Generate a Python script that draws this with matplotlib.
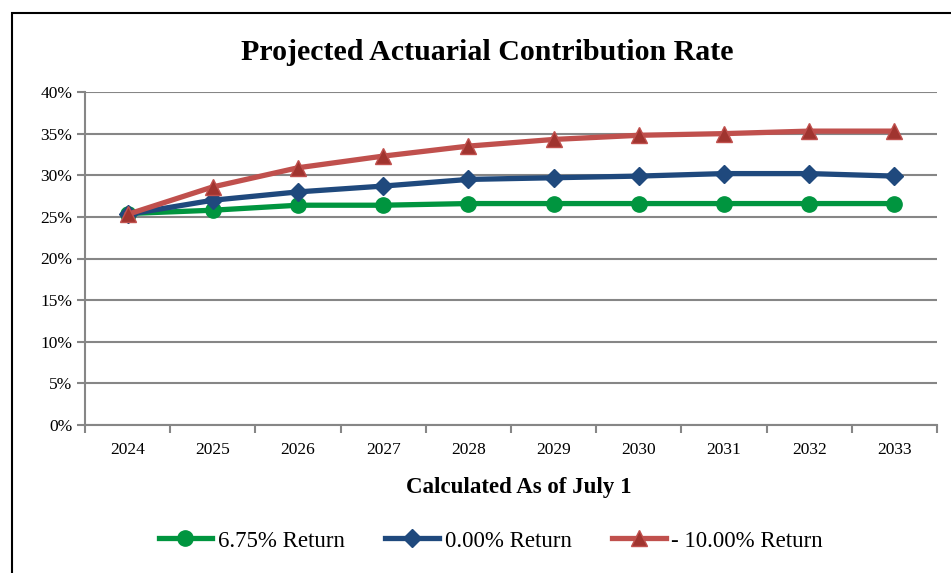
import matplotlib
matplotlib.use("Agg")
import matplotlib.pyplot as plt
from matplotlib.patches import Rectangle
from matplotlib.ticker import FuncFormatter, MultipleLocator

# datos
anios = ["2024", "2025", "2026", "2027", "2028", "2029", "2030", "2031", "2032", "2033"]
ret_675 = [25.4, 25.8, 26.4, 26.4, 26.6, 26.6, 26.6, 26.6, 26.6, 26.6]
ret_000 = [25.3, 27.0, 28.0, 28.7, 29.5, 29.7, 29.9, 30.2, 30.2, 29.9]
ret_neg10 = [25.3, 28.6, 30.9, 32.3, 33.5, 34.3, 34.8, 35.0, 35.3, 35.3]
etiquetas = ["6.75% Return", "0.00% Return", "- 10.00% Return"]

plt.rcParams["font.family"] = ["Liberation Serif", "DejaVu Serif"]

fig = plt.figure(figsize=(9.51, 5.73), dpi=100)
ax = fig.add_axes([85 / 951, 1 - 425 / 573, (937 - 85) / 951, (425 - 92) / 573])

x = list(range(len(anios)))
ax.plot(x, ret_675, color="#00953F", lw=3.8, marker="o", ms=11,
        markerfacecolor="#00953F", markeredgecolor="#00953F", label=etiquetas[0], zorder=3)
ax.plot(x, ret_000, color="#1F497D", lw=3.8, marker="D", ms=9,
        markerfacecolor="#1F497D", markeredgecolor="#1F497D", label=etiquetas[1], zorder=4)
ax.plot(x, ret_neg10, color="#C0504D", lw=3.8, marker="^", ms=12,
        markerfacecolor="#A0342F", markeredgecolor="#C0504D", label=etiquetas[2], zorder=5)

ax.set_xlim(-0.5, len(anios) - 0.5)
ax.set_ylim(0, 40)
ax.yaxis.set_major_locator(MultipleLocator(5))
ax.yaxis.set_major_formatter(FuncFormatter(lambda v, p: "%d%%" % v))
ax.set_xticks(x)
ax.set_xticklabels(anios)
ax.set_xticks([i - 0.5 for i in range(len(anios) + 1)], minor=True)
ax.tick_params(axis="x", which="major", length=0, pad=12, labelsize=12.5)
ax.tick_params(axis="x", which="minor", length=6, width=1.5, color="#868686", direction="out")
ax.tick_params(axis="y", length=6, width=1.5, color="#868686", labelsize=12.5, pad=3)

ax.grid(axis="y", color="#868686", lw=1.5)
ax.set_axisbelow(True)
for s in ["top", "right"]:
    ax.spines[s].set_visible(False)
for s in ["left", "bottom"]:
    ax.spines[s].set_color("#868686")
    ax.spines[s].set_linewidth(1.5)

fig.text(0.512, 1 - 52 / 573, "Projected Actuarial Contribution Rate",
         ha="center", va="center", fontsize=21.5, fontweight="bold")
fig.text(0.545, 1 - 488 / 573, "Calculated As of July 1",
         ha="center", va="center", fontsize=16.5, fontweight="bold")

fig.legend(loc="center", bbox_to_anchor=(0.516, 1 - 541 / 573), ncol=3, frameon=False,
           fontsize=16.5, handlelength=2.35, columnspacing=1.75, handletextpad=0.25)

# marco exterior
fig.patches.append(Rectangle((12 / 951, -0.1), 1.0, 1 - 13 / 573 + 0.1,
                             transform=fig.transFigure, fill=False,
                             edgecolor="black", lw=1.5))

fig.savefig("out.png", dpi=100)
